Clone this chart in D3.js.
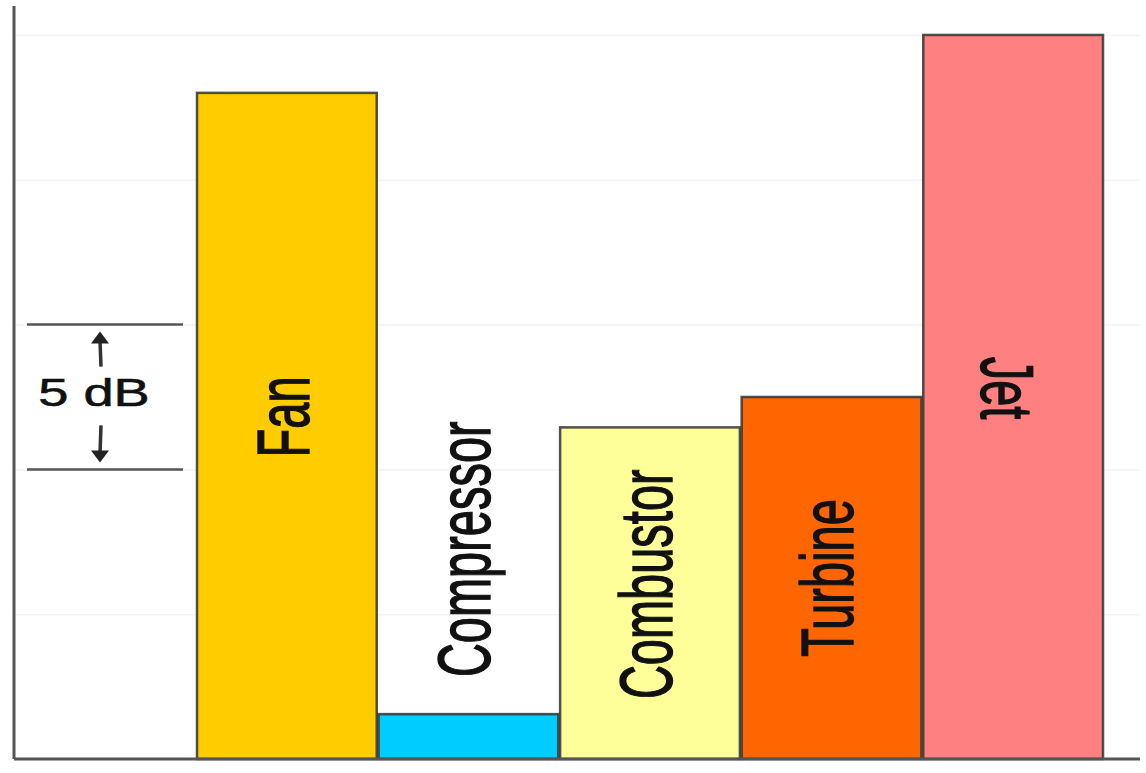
<!DOCTYPE html>
<html>
<head>
<meta charset="utf-8">
<script src="https://cdn.jsdelivr.net/npm/d3@7"></script>
<style>
  html, body { margin: 0; padding: 0; background: #fff; }
  #chart { width: 1146px; height: 773px; }
  text { font-family: "Liberation Sans", Arial, sans-serif; fill: #111; stroke: #111; stroke-width: 0.9px; }
</style>
</head>
<body>
<div id="chart"></div>
<script>
//Datos
const categories = ['Fan', 'Compressor', 'Combustor', 'Turbine', 'Jet'];
const levels = [23.0, 1.55, 11.45, 12.5, 25.0]; // dB relativos
const colors = ['#FFCC00', '#00CCFF', '#FFFF99', '#FF6600', '#FF8080'];
const gridTicks = [5, 10, 15, 20, 25];
const scaleBar = [10, 15]; // 5 dB
const scaleLabel = '5 dB';

let margin = {top: 6, right: 6, bottom: 14, left: 14},
    width = 1146 - margin.left - margin.right,
    height = 773 - margin.top - margin.bottom;

let svg = d3.select('#chart')
    .append('svg')
      .attr('width', width + margin.left + margin.right)
      .attr('height', height + margin.top + margin.bottom)
    .append('g')
      .attr('transform', 'translate(' + margin.left + ',' + margin.top + ')');

//Escalas
let x = d3.scaleBand()
    .domain(categories)
    .range([183, 1089])
    .paddingInner(0.01);

let y = d3.scaleLinear()
    .domain([0, 26])
    .range([height, 0]);

//Rejilla suave
svg.append('g')
    .call(d3.axisLeft(y).tickValues(gridTicks).tickSize(-width).tickFormat(''))
    .call(function(g) {
        g.select('.domain').remove();
        g.selectAll('.tick line').attr('stroke', '#f1f3f5').attr('stroke-width', 1.5);
    });

//Barras
svg.append('g')
    .selectAll('rect')
    .data(categories)
    .enter()
    .append('rect')
    .attr('x', function(d) { return x(d); })
    .attr('y', function(d, i) { return y(levels[i]); })
    .attr('width', x.bandwidth())
    .attr('height', function(d, i) { return y(0) - y(levels[i]); })
    .attr('fill', function(d, i) { return colors[i]; })
    .attr('stroke', '#333')
    .attr('stroke-opacity', 0.85)
    .attr('stroke-width', 2.5);

//Etiquetas (texto estirado como en el original)
svg.append('g')
    .selectAll('text')
    .data(categories)
    .enter()
    .append('text')
    .attr('font-size', 47)
    .attr('text-anchor', function(d) { return d == 'Compressor' ? 'start' : 'middle'; })
    .attr('dy', '0.36em')
    .attr('transform', function(d, i) {
        let cx = x(d) + x.bandwidth() / 2 - 5;
        let cy;
        if (d == 'Compressor') {
            cy = y(levels[i]) - 37;
        } else if (d == 'Turbine') {
            cy = (y(levels[i]) + y(0)) / 2;
        } else {
            cy = (y(levels[i]) + y(0)) / 2 - 9;
        }
        let rot = d == 'Jet' ? 90 : -90;
        return 'translate(' + cx + ',' + cy + ') scale(1.58,1) rotate(' + rot + ')';
    })
    .text(function(d) { return d; });

//Barra de escala
let scaleG = svg.append('g');

scaleG.selectAll('line.sb')
    .data(scaleBar)
    .enter()
    .append('line')
    .attr('x1', 13).attr('x2', 169)
    .attr('y1', function(d) { return y(d); })
    .attr('y2', function(d) { return y(d); })
    .attr('stroke', '#555')
    .attr('stroke-width', 2.5);

let ax = 86;
//flecha arriba
scaleG.append('line')
    .attr('x1', ax).attr('x2', ax + 1)
    .attr('y1', y(scaleBar[1]) + 16).attr('y2', y(scaleBar[1]) + 42)
    .attr('stroke', '#333').attr('stroke-width', 3.5);
scaleG.append('path')
    .attr('d', 'M' + (ax - 9) + ',' + (y(scaleBar[1]) + 19) + 'L' + ax + ',' + (y(scaleBar[1]) + 7) + 'L' + (ax + 9) + ',' + (y(scaleBar[1]) + 19) + 'Z')
    .attr('fill', '#222');
//flecha abajo
scaleG.append('line')
    .attr('x1', ax + 1).attr('x2', ax)
    .attr('y1', y(scaleBar[0]) - 44).attr('y2', y(scaleBar[0]) - 16)
    .attr('stroke', '#333').attr('stroke-width', 3.5);
scaleG.append('path')
    .attr('d', 'M' + (ax - 9) + ',' + (y(scaleBar[0]) - 19) + 'L' + ax + ',' + (y(scaleBar[0]) - 7) + 'L' + (ax + 9) + ',' + (y(scaleBar[0]) - 19) + 'Z')
    .attr('fill', '#222');

scaleG.append('text')
    .attr('font-size', 39)
    .attr('text-anchor', 'middle')
    .style('stroke-width', '0.6px')
    .attr('transform', 'translate(' + 80 + ',' + ((y(scaleBar[0]) + y(scaleBar[1])) / 2 + 9) + ') scale(1.39,1)')
    .text(scaleLabel);

//Ejes
svg.append('line')
    .attr('x1', 0).attr('x2', 0)
    .attr('y1', 0).attr('y2', height)
    .attr('stroke', '#555').attr('stroke-width', 3);

svg.append('line')
    .attr('x1', 0).attr('x2', width)
    .attr('y1', height).attr('y2', height)
    .attr('stroke', '#555').attr('stroke-width', 3);
</script>
</body>
</html>
